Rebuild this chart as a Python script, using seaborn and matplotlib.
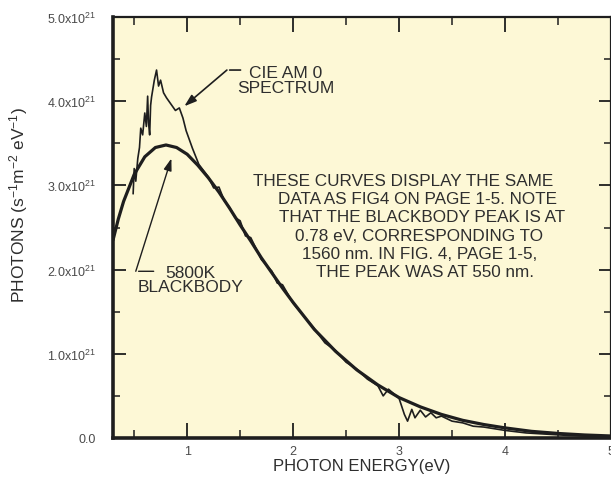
import numpy as np
import pandas as pd
import matplotlib
matplotlib.use("Agg")
import matplotlib.pyplot as plt
import seaborn as sns

# ---- data ----
bb_energy = [0.30, 0.35, 0.40, 0.50, 0.60, 0.70, 0.80, 0.90, 1.00, 1.10, 1.20, 1.30, 1.40,
             1.50, 1.60, 1.70, 1.80, 1.90, 2.00, 2.20, 2.40, 2.60, 2.80, 3.00, 3.20, 3.40,
             3.60, 3.80, 4.00, 4.25, 4.50, 4.75, 5.00]
bb_photons = [2.35, 2.60, 2.81, 3.13, 3.34, 3.45, 3.48, 3.45, 3.37, 3.24, 3.09, 2.92, 2.73,
              2.53, 2.34, 2.14, 1.96, 1.78, 1.61, 1.29, 1.03, 0.81, 0.63, 0.48, 0.37, 0.28,
              0.21, 0.16, 0.12, 0.079, 0.054, 0.036, 0.024]

am0_energy = [0.49, 0.50, 0.515, 0.534, 0.55, 0.562, 0.58, 0.60, 0.615, 0.627, 0.635, 0.646,
              0.655, 0.664, 0.69, 0.711, 0.73, 0.749, 0.777, 0.805, 0.833, 0.861, 0.889,
              0.926, 0.96, 0.99, 1.05, 1.11, 1.20, 1.25, 1.30, 1.35, 1.40, 1.45, 1.50, 1.55,
              1.60, 1.70, 1.80, 1.85, 1.90, 2.00, 2.10, 2.20, 2.30, 2.40, 2.50, 2.60, 2.70,
              2.80, 2.85, 2.90, 3.00, 3.05, 3.08, 3.12, 3.15, 3.20, 3.25, 3.30, 3.35, 3.40,
              3.50, 3.60, 3.70, 3.80, 4.00, 4.20, 4.40, 4.60, 4.80, 5.00]
am0_photons = [2.90, 3.20, 3.05, 3.32, 3.45, 3.68, 3.60, 3.86, 3.70, 4.06, 3.75, 3.60,
               3.95, 4.05, 4.25, 4.37, 4.18, 4.25, 4.10, 4.04, 3.99, 3.94, 3.89,
               3.92, 3.80, 3.65, 3.44, 3.25, 3.10, 2.97, 2.98, 2.82, 2.74, 2.62, 2.58, 2.40,
               2.38, 2.12, 1.98, 1.84, 1.82, 1.60, 1.45, 1.30, 1.13, 1.04, 0.90, 0.82, 0.70,
               0.62, 0.50, 0.58, 0.47, 0.28, 0.20, 0.34, 0.24, 0.33, 0.25, 0.30, 0.24, 0.26,
               0.20, 0.18, 0.14, 0.13, 0.09, 0.06, 0.045, 0.03, 0.02, 0.015]

x_ticks = [1, 2, 3, 4, 5]
x_tick_labels = ["1", "2", "3", "4", "5"]
y_ticks = [0.0, 1.0, 2.0, 3.0, 4.0, 5.0]
y_tick_labels = ["0.0", "1.0x10$^{21}$", "2.0x10$^{21}$", "3.0x10$^{21}$",
                 "4.0x10$^{21}$", "5.0x10$^{21}$"]

note_lines = ["THESE CURVES DISPLAY THE SAME",
              "DATA AS FIG4 ON PAGE 1-5. NOTE",
              "THAT THE BLACKBODY PEAK IS AT",
              "0.78 eV, CORRESPONDING TO",
              "1560 nm. IN FIG. 4, PAGE 1-5,",
              "THE PEAK WAS AT 550 nm."]

# ---- style ----
sns.set_theme(style="ticks")
plt.rcParams["font.family"] = ["Liberation Sans", "DejaVu Sans"]
plt.rcParams["mathtext.fontset"] = "custom"
plt.rcParams["mathtext.rm"] = "Liberation Sans"
plt.rcParams["mathtext.it"] = "Liberation Sans"
plt.rcParams["mathtext.bf"] = "Liberation Sans:bold"

ink = "#1e1e1e"
txt = "#2e2e2e"

fig = plt.figure(figsize=(6.11, 4.81), dpi=100)
ax = fig.add_axes([113 / 611, 42 / 481, 498 / 611, 421 / 481])
ax.set_facecolor("#fdf8d6")

bb = pd.DataFrame({"energy": bb_energy, "photons": bb_photons})
am0 = pd.DataFrame({"energy": am0_energy, "photons": am0_photons})

sns.lineplot(data=bb, x="energy", y="photons", ax=ax, color=ink, lw=2.3,
             estimator=None, sort=False)
sns.lineplot(data=am0, x="energy", y="photons", ax=ax, color=ink, lw=1.2,
             estimator=None, sort=False)

ax.set_xlim(0.3, 5.0)
ax.set_ylim(0.0, 5.0)
ax.set_xticks(x_ticks)
ax.set_xticklabels(x_tick_labels)
ax.set_yticks(y_ticks)
ax.set_yticklabels(y_tick_labels)
ax.set_xticks(np.arange(0.5, 5.0, 1.0), minor=True)
ax.set_yticks(np.arange(0.5, 5.0, 1.0), minor=True)

ax.tick_params(axis="both", which="both", direction="in", top=True, right=True,
               colors=ink, labelcolor="#4a4a4a", labelsize=9)
ax.tick_params(axis="x", which="major", length=11, width=1.3, pad=5)
ax.tick_params(axis="x", which="minor", length=6, width=1.1)
ax.tick_params(axis="y", which="major", length=9, width=1.3, pad=12)
ax.tick_params(axis="y", which="minor", length=5, width=1.1)

for side, w in [("left", 2.6), ("bottom", 2.6), ("top", 1.6), ("right", 1.6)]:
    ax.spines[side].set_visible(True)
    ax.spines[side].set_linewidth(w)
    ax.spines[side].set_color(ink)

ax.set_xlabel("PHOTON ENERGY(eV)", fontsize=12, color=txt, labelpad=1)
ax.set_ylabel("PHOTONS (s$^{-1}$m$^{-2}$ eV$^{-1}$)", fontsize=12.5, color=txt)
ax.yaxis.set_label_coords(-0.167, 0.556)

# annotations
ax.text(1.93, 4.25, "CIE AM 0\nSPECTRUM", ha="center", va="center",
        fontsize=12.5, color=txt, linespacing=0.95)
ax.annotate("", xy=(1.375, 4.37), xytext=(1.53, 4.37),
            arrowprops=dict(arrowstyle="-", color=ink, lw=1.2))
ax.annotate("", xy=(0.973, 3.94), xytext=(1.375, 4.37),
            arrowprops=dict(arrowstyle="-|>,head_length=0.6,head_width=0.2",
                            color=ink, lw=1.2, shrinkA=0, shrinkB=0))

ax.text(1.03, 1.88, "5800K\nBLACKBODY", ha="center", va="center",
        fontsize=12.5, color=txt, linespacing=0.95)
ax.annotate("", xy=(0.515, 1.98), xytext=(0.71, 1.98),
            arrowprops=dict(arrowstyle="-", color=ink, lw=1.0))
ax.annotate("", xy=(0.851, 3.32), xytext=(0.515, 1.98),
            arrowprops=dict(arrowstyle="-|>,head_length=0.6,head_width=0.2",
                            color=ink, lw=1.0, shrinkA=0, shrinkB=0))

note_x = [3.04, 3.17, 3.22, 3.19, 3.19, 3.24]
note_y = [3.06, 2.845, 2.63, 2.405, 2.19, 1.976]
for s, xx, yy in zip(note_lines, note_x, note_y):
    ax.text(xx, yy, s, ha="center", va="center", fontsize=12.3, color=txt)

fig.savefig("out.png", dpi=100, facecolor="white")
